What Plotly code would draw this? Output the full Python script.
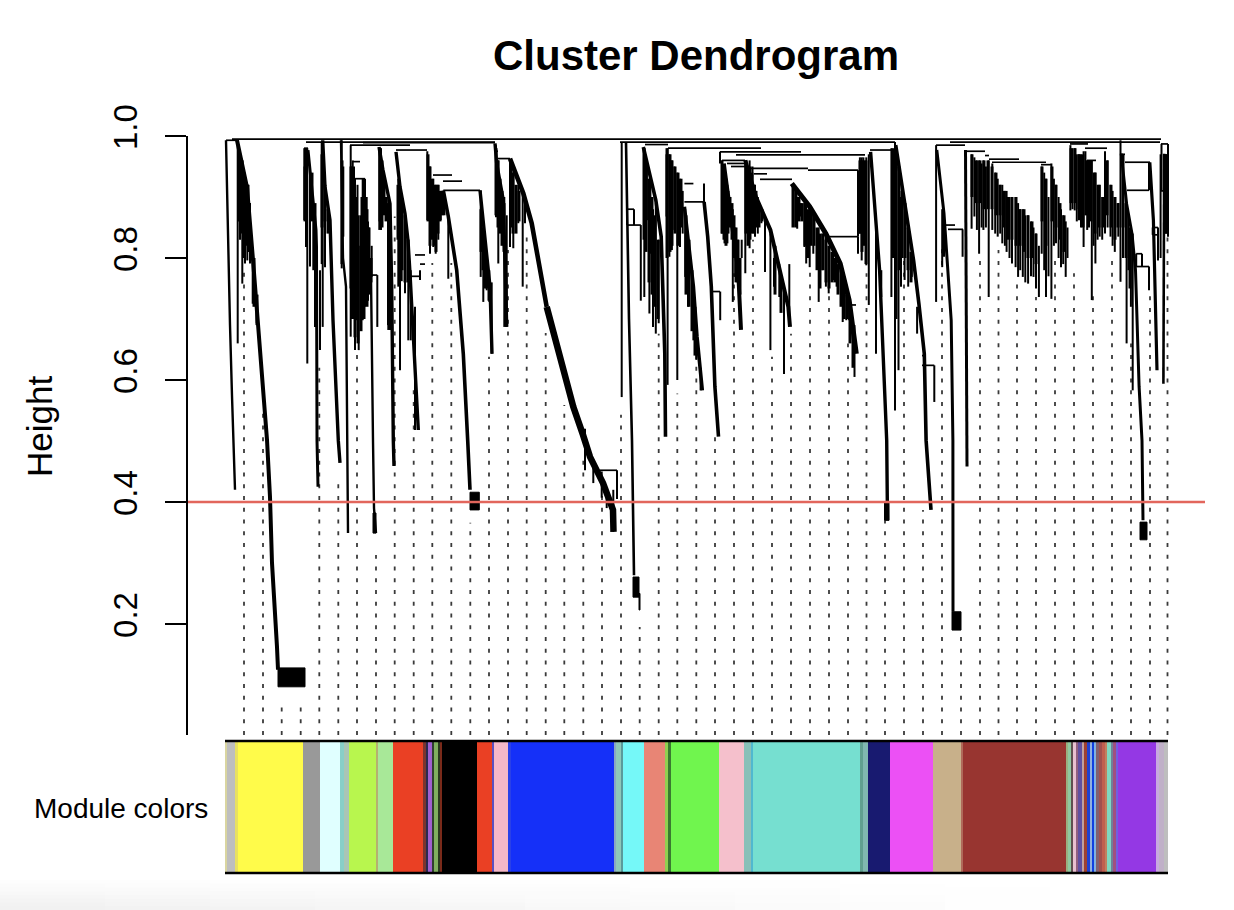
import plotly.graph_objects as go

# ---- module colour band (edges in leaf positions, one colour per interval)
band_edges = [225, 227.5, 235, 238.3, 303.3, 320, 340, 344, 349, 376.7, 378.3, 393.3, 423.3, 425.7, 428.3, 431.7, 434,
              437.7, 439.7, 441.7, 477.3, 492.3, 494.3, 508.3, 511, 615, 616, 620.7, 622.7, 644.3, 664.7, 668, 670.7,
              719.3, 744, 750.7, 752.7, 860, 862.7, 868.3, 890, 933.3, 960.7, 962.7, 1066, 1067.7, 1071, 1072.7, 1076,
              1077.7, 1081.7, 1084.3, 1087.3, 1090, 1091.7, 1094.3, 1096, 1099.3, 1101.7, 1105, 1107.3, 1111.7, 1113.3,
              1115.7, 1118, 1156, 1159.3, 1164, 1168.3]
band_colors = ["#d9d5a0", "#bebebe", "#e8e060", "#fffb4a", "#999999", "#e0ffff", "#88cfc8", "#aac5b5", "#b8f64e",
               "#b5b070", "#a8e898", "#ea4024", "#7a3530", "#2a2a50", "#a060d0", "#304030", "#80b060", "#2b3a20",
               "#7a2a1a", "#000000", "#ea4024", "#5a50c0", "#f5b8c8", "#2a40e8", "#1530f8", "#8aa8c0", "#8fc8b8",
               "#5a9a9a", "#75f8f8", "#e88575", "#90d050", "#3a7a30", "#70f54e", "#f5c0cc", "#88c0b8", "#50b8d0",
               "#76dfd0", "#60a090", "#80b8b0", "#181a70", "#ec50f5", "#c8b08a", "#b06a5a", "#983530", "#9ab080",
               "#90c8a0", "#605050", "#e8c0d0", "#906080", "#6050a0", "#c0a0a0", "#a04030", "#2040d0", "#90b0e0",
               "#1040e0", "#80b0e0", "#806070", "#a05050", "#c06050", "#c08060", "#80d8c0", "#70809a", "#a05080",
               "#7060e0", "#9438e4", "#c8a8e0", "#c0b0c8", "#bebebe"]

# ---- guide lines: leaf position and the height where each one starts
guide_x = [244, 263, 281.7, 300.7, 319.3, 338.3, 357, 376, 394.7, 413.7, 432.3, 451.3, 470.3, 489, 508, 526.7, 545.7,
           564.3, 583.3, 602, 621, 639.7, 658.7, 677.3, 696.3, 715, 734, 753, 772, 791, 810, 829, 848, 866.5, 885,
           904, 923, 942, 961, 980, 998.5, 1017, 1036, 1055, 1074, 1093, 1112, 1131, 1150, 1167.5]
guide_top = [.785, .546, .075, .064, .62, .43, .644, .313, .868, .589, .792, .792, .366, .638, .813, .846, .677, .559,
             .469, .424, .543, .195, .676, .578, .643, .507, .775, .83, .638, .676, .785, .742, .66, .775, .37, .807,
             .387, .818, .19, .807, .813, .764, .736, .807, .775, .747, .807, .66, .747, .867]

# ---- thin stems
twig_x_a = [237.7, 239, 240, 241, 242.3, 243, 244, 245, 246, 247.3, 248, 250, 252.7, 256.7,
            304.3, 306, 307.3, 310, 313.3, 315, 320, 321.7, 322.7, 325, 341.7, 343.3]
twig_top_a = [.993, .97, .95, .96, .96, .95, .94, .93, .93, .92, .92, .89, .80, .72,
              .98, .98, .98, .95, .88, .85, .78, .99, .95, .90, .993, .95]
twig_bot_a = [.66, .86, .83, .84, .758, .82, .80, .791, .82, .796, .81, .791, .725, .693,
              .862, .818, .627, .786, .78, .687, .649, .79, .687, .785, .783, .835]

twig_x_b = [350.7, 351.7, 352.7, 354, 355, 356.7, 357.5, 358.7, 360.7, 361.5, 362.7, 364, 365, 366.7, 368, 369, 371.7,
            377.3, 379.3, 381, 383.3, 386.7, 388.3, 390, 398.3, 400, 401.7, 405, 408.3, 410.7, 415, 420]
twig_top_b = [.985, .95, .96, .95, .93, .90, .92, .87, .87, .90, .93, .93, .93, .90, .86, .85, .82,
              .772, .982, .98, .94, .90, .90, .89, .93, .92, .90, .87, .83, .78, .72, .78]
twig_bot_b = [.671, .70, .742, .78, .649, .698, .76, .649, .698, .74, .698, .76, .72, .753, .73, .796, .769,
              .687, .846, .846, .889, .90, .682, .682, .753, .616, .762, .742, .665, .665, .518, .764]

twig_x_c = [427.3, 430, 433.3, 435.7, 438.3, 440.7, 443.3, 448.3, 480.7, 483.3, 486.7, 489.3, 491.7,
            496, 498.3, 501.7, 504.3, 506.7, 510, 513.3, 518.3, 522.7, 525, 585, 593.3, 601.7, 606.7, 613.3, 617]
twig_top_c = [.975, .95, .93, .92, .92, .91, .90, .865, .91, .85, .80, .78, .76,
              .985, .96, .90, .90, .87, .96, .94, .92, .91, .90, .52, .47, .45, .42, .42, .452]
twig_bot_c = [.862, .807, .818, .807, .83, .862, .873, .766, .769, .728, .747, .728, .643,
              .867, .791, .862, .687, .687, .818, .816, .857, .753, .857, .452, .431, .407, .39, .351, .405]

twig_x_d = [621.7, 627, 634, 640.8, 644.3, 646.9, 649.4, 650.4, 653, 655.8, 658.7, 666.5, 667.6, 669.4, 671.9, 674.4,
            677.3, 680, 682.7, 685.2, 688, 690.5, 693.4, 696.3, 700.6, 704, 720.2, 720]
twig_top_d = [.99, .88, .88, .854, .98, .96, .93, .93, .88, .89, .83, .97, .98, .97, .96, .95,
              .94, .93, .91, .88, .84, .80, .75, .69, .62, .922, .745, .974]
twig_bot_d = [.572, .854, .854, .73, .736, .862, .709, .807, .687, .676, .693, .868, .592, .802, .813, .846,
              .60, .818, .84, .769, .72, .78, .665, .633, .583, .892, .698, .955]

twig_x_e = [722, 724.5, 727.4, 730, 732.8, 735.3, 738.1, 741.7, 745.3, 749.6, 752.5, 755, 757.8, 761.4, 765, 770.4,
            774, 779.3, 784, 789.3, 793.6, 797.2, 800.8, 804.4, 806.2, 809.7, 813.3, 818.7, 822.3, 825.9, 828.7, 833,
            836.6, 842.7, 846.3, 849.1, 854.5, 858, 858]
twig_top_e = [.96, .95, .92, .90, .88, .85, .83, .83, .96, .96, .95, .92, .90, .88, .87, .84,
              .80, .79, .75, .79, .92, .90, .89, .89, .885, .88, .87, .85, .84, .84, .82, .81,
              .80, .77, .74, .73, .69, .944, .835]
twig_bot_e = [.84, .824, .824, .851, .728, .769, .785, .80, .775, .816, .846, .835, .84, .857, .777, .649,
              .753, .736, .61, .70, .851, .848, .868, .818, .791, .785, .807, .728, .78, .753, .742, .764,
              .753, .695, .698, .698, .605, .835, .807]

twig_x_f = [859.9, 861.7, 863.4, 866.3, 868.8, 876, 881.3, 891.4, 895, 898.5, 901, 904.6, 908.2, 911.8, 917.1, 934.3,
            936.1, 942.2, 944, 962.6]
twig_top_f = [.965, .965, .965, .965, .97, .86, .78, .98, .99, .95, .90, .89, .85, .80, .72, .624,
              .985, .88, .87, .847]
twig_bot_f = [.84, .796, .84, .788, .723, .643, .736, .736, .55, .616, .753, .764, .753, .769, .676, .564,
              .728, .785, .802, .802]

twig_x_g = [971.6, 974.4, 976.9, 979.1, 981.6, 983.4, 985.9, 988.7, 992.3, 995.2, 997.7, 1000.2, 1002.3, 1004.9, 1006.6,
            1009.5, 1012, 1015.6, 1018.1, 1020.2, 1022.8, 1025.3, 1028.1, 1031, 1033.5, 1036, 1038.9, 1041.7, 1044.2,
            1046, 1048.5, 1051.4, 1053.9, 1056, 1058.6, 1061, 1063.2, 1065.7, 1067.5]
twig_top_g = [.97, .965, .96, .96, .955, .96, .95, .96, .955, .94, .93, .92, .92, .91, .91,
              .90, .90, .90, .89, .88, .88, .87, .87, .86, .85, .84, .82, .95, .94,
              .93, .90, .955, .93, .92, .90, .88, .87, .86, .85]
twig_bot_g = [.848, .868, .846, .807, .85, .846, .85, .736, .846, .84, .835, .84, .824, .82, .81,
              .80, .791, .785, .769, .78, .769, .76, .758, .77, .769, .75, .736, .807, .78,
              .736, .77, .733, .82, .824, .80, .785, .79, .769, .80]

twig_x_h = [1070.4, 1072.5, 1074.7, 1076.8, 1079, 1081, 1083.6, 1085.4, 1087.2, 1089, 1091.8, 1093.6, 1095.4, 1097.6,
            1099.7, 1102.2, 1105, 1107.6, 1110.5, 1112.6, 1114.8, 1118.3, 1120.5, 1123, 1126.6, 1128.4, 1130.9, 1132.7,
            1136.2, 1142, 1149, 1149, 1152.7, 1158, 1160.6, 1161.5, 1166, 1168]
twig_top_h = [.985, .98, .98, .97, .97, .97, .975, .975, .96, .96, .96, .94, .94, .92,
              .92, .90, .975, .96, .92, .91, .90, .89, .993, .97, .89, .87, .85, .84,
              .807, .807, .957, .786, .85, .85, .97, .987, .97, .987]
twig_bot_h = [.878, .88, .878, .86, .862, .85, .818, .87, .846, .85, .731, .82, .791, .83,
              .835, .83, .84, .85, .835, .82, .81, .835, .761, .80, .66, .78, .72, .583,
              .786, .786, .911, .747, .838, .796, .80, .91, .84, .835]

# ---- heavy stems where many merges overlap and read as solid black
mass_x_a = [239, 242, 245, 248, 254, 257, 305, 312, 315, 322, 325, 328, 342, 351, 353, 355, 358, 361, 364, 367, 369,
            371, 380, 382, 384, 386, 388.5, 398, 400, 402, 405, 408, 428, 430, 432, 434, 436, 438, 440, 442, 444, 481,
            483, 485, 487, 489, 496, 498, 500, 502, 504, 506, 511, 513, 516, 519]
mass_top_a = [.97, .96, .93, .92, .80, .74, .95, .94, .89, .97, .92, .88, .96, .95, .90, .85, .82, .82, .85, .88, .85,
              .80, .98, .96, .93, .90, .89, .92, .91, .89, .87, .83, .97, .95, .93, .92, .92, .92, .91, .91, .90, .88,
              .85, .82, .79, .76, .98, .96, .93, .91, .89, .77, .95, .94, .92, .91]
mass_bot_a = [.87, .85, .85, .85, .72, .69, .86, .86, .80, .85, .86, .84, .79, .75, .70, .67, .66, .68, .70, .72, .74,
              .76, .86, .85, .87, .86, .69, .83, .80, .78, .76, .76, .86, .82, .83, .82, .81, .84, .86, .87, .87, .81,
              .78, .75, .75, .73, .87, .85, .84, .82, .81, .69, .85, .84, .84, .86]

mass_x_b = [644, 646, 649, 652, 655, 658, 667, 670, 672, 675, 678, 681, 686, 689, 692, 695, 722, 724, 726, 728, 730,
            732, 734, 736, 738, 740, 746, 748, 750, 752, 754, 756, 759, 762, 775, 781, 793, 796, 799, 802, 805, 808,
            811, 814, 817, 820, 823, 826, 829, 832, 835, 838, 841, 844, 847, 850, 853, 860, 862, 864, 866]
mass_top_b = [.98, .96, .93, .90, .87, .83, .98, .97, .96, .95, .94, .93, .87, .83, .78, .72, .96, .95, .93, .91, .90,
              .89, .87, .85, .83, .80, .96, .95, .95, .94, .92, .91, .89, .88, .82, .77, .92, .91, .90, .89, .89, .88,
              .88, .87, .85, .84, .84, .83, .82, .81, .80, .79, .78, .77, .74, .71, .68, .96, .96, .96, .96]
mass_bot_b = [.83, .81, .76, .74, .72, .70, .80, .81, .82, .84, .82, .85, .74, .72, .68, .64, .84, .83, .82, .84, .85,
              .83, .80, .76, .76, .74, .84, .82, .83, .84, .84, .85, .85, .86, .74, .71, .85, .85, .86, .86, .82, .80,
              .82, .82, .78, .75, .78, .76, .75, .76, .76, .74, .72, .70, .70, .66, .62, .84, .81, .82, .79]

mass_x_c = [893, 896, 899, 902, 905, 908, 911, 972, 976, 980, 984, 988, 992, 996, 1000, 1004, 1008, 1012, 1016, 1020,
            1024, 1028, 1032, 1036, 1042, 1046, 1052, 1056, 1060, 1064, 1071, 1075, 1079, 1083, 1087, 1091, 1095, 1099,
            1103, 1107, 1111, 1115, 1118, 1123, 1126, 1130, 1165, 1167]
mass_top_c = [.98, .98, .95, .91, .89, .85, .81, .97, .96, .96, .96, .96, .95, .94, .92, .91, .90, .90, .90, .88, .88,
              .87, .86, .84, .95, .93, .95, .92, .89, .87, .98, .98, .97, .97, .96, .96, .94, .92, .90, .96, .92, .90,
              .89, .97, .89, .85, .97, .97]
mass_bot_c = [.80, .70, .78, .80, .80, .78, .76, .90, .89, .89, .88, .88, .88, .87, .87, .85, .83, .83, .82, .82, .81,
              .80, .80, .79, .86, .82, .86, .85, .83, .81, .89, .89, .88, .85, .87, .86, .84, .85, .85, .87, .85, .83,
              .85, .85, .80, .75, .84, .84]

# ---- horizontal joins
join_x0 = [232, 306, 620, 950, 226, 304, 350, 363, 353, 355, 370, 396, 433, 443, 443.3, 461.7, 498, 495, 600, 627,
           627, 645, 668, 684.4, 684.4, 711, 720, 736, 722, 727, 731, 745, 808, 754, 760, 828, 848, 870, 922, 922,
           936, 945, 948, 967, 985, 989, 992, 1041, 1070, 1085, 1087, 1120, 1125, 1127, 1135.5, 1136.2, 1152.7, 1161,
           1161, 415, 420, 411, 1152.7]
join_x1 = [1161, 495, 895, 1160, 237, 308, 410, 495, 360, 365, 377.3, 427, 452, 462, 480, 462, 510, 498, 617, 634,
           640.8, 668, 761, 693.4, 704, 720, 801, 865, 745, 745, 745, 808, 858, 767, 792, 858, 856, 892, 934.3, 926,
           965, 955, 963, 985, 989, 1019, 1046, 1051, 1088, 1107, 1096, 1125, 1150, 1149, 1149, 1142, 1158, 1168,
           1166, 425, 425, 420, 1158]
join_h = [.995, .99, .99, .99, .993, .98, .985, .989, .958, .93, .772, .977, .936, .926, .911, .926, .963, .975, .452,
          .88, .854, .986, .98, .922, .892, .745, .974, .969, .96, .955, .95, .947, .944, .938, .929, .835, .723, .977,
          .624, .64, .985, .854, .847, .975, .968, .962, .957, .953, .987, .98, .96, .97, .957, .911, .786, .807, .85,
          .987, .91, .805, .79, .77, .838]

# ---- main falling stems, grouped by drawn weight
s01_x = [226, 228, 230, 232, 233, 235]
s01_h = [.993, .82, .69, .574, .508, .42]
s02_x = [237, 247, 253, 258, 263, 267, 270, 272, 277, 278]
s02_h = [.993, .916, .797, .698, .60, .502, .408, .30, .162, .125]
s03_x = [308, 313, 316, 316.5, 317, 318]
s03_h = [.977, .895, .846, .818, .501, .425]
s04_x = [322.7, 325, 330, 333, 338.3, 340]
s04_h = [.993, .917, .862, .698, .501, .464]
s05_x = [341, 343, 346, 347, 348]
s05_h = [.993, .80, .753, .50, .349]
s06_x = [371, 372, 373, 374, 376]
s06_h = [.769, .60, .50, .39, .349]
s07_x = [379, 383, 390, 391.7, 393.3, 394]
s07_h = [.982, .944, .889, .753, .501, .459]
s08_x = [396, 400, 405, 408, 410, 414, 418.3]
s08_h = [.974, .917, .873, .829, .775, .643, .518]
s09_x = [443.3, 448.3, 456.7, 463.3, 467.7, 470]
s09_h = [.911, .868, .78, .643, .501, .42]
s10_x = [480, 485, 490, 492]
s10_h = [.911, .835, .753, .643]
s11_x = [495, 496.7, 503.3, 506.7]
s11_h = [.988, .955, .895, .687]
s12_x = [510, 523.3, 531.7, 546.7]
s12_h = [.963, .906, .857, .72]
s13_x = [626, 629, 632, 634]
s13_h = [.99, .70, .50, .28]
s14_x = [643.3, 655.8, 661.2, 664.8, 665.5]
s14_h = [.982, .895, .835, .643, .507]
s15_x = [684.4, 688, 693.4, 697, 702.3]
s15_h = [.884, .835, .753, .671, .583]
s16_x = [704.1, 707.7, 711.3, 714.9, 718.5]
s16_h = [.892, .835, .753, .589, .507]
s17_x = [723.8, 731, 738.1, 741]
s17_h = [.955, .862, .78, .682]
s18_x = [745.3, 756, 763.2, 770.4, 777.5, 788.3, 790]
s18_h = [.96, .90, .873, .846, .796, .72, .687]
s19_x = [870.6, 876, 879.6, 883.1, 886.7, 887.5]
s19_h = [.974, .862, .78, .643, .501, .37]
s20_x = [895.7, 904.6, 913.6, 918.9, 924.3, 926.1, 931]
s20_h = [.985, .895, .796, .725, .643, .501, .387]
s21_x = [936.8, 944, 951.2, 952.9, 953]
s21_h = [.977, .873, .698, .501, .22]
s22_x = [965.5, 966.2, 967]
s22_h = [.977, .671, .458]
s23_x = [1121.2, 1126.6, 1132, 1135.5, 1139.1, 1142, 1143]
s23_h = [.971, .889, .84, .78, .589, .501, .37]
s24_x = [1149.8, 1153.4, 1157]
s24_h = [.957, .862, .616]
s25_x = [1164.2, 1163.4]
s25_h = [.971, .594]
s26_x = [546.7, 561.7, 573.3, 583, 590, 603, 613, 613.5]
s26_h = [.72, .633, .556, .51, .474, .431, .387, .351]
s27_x = [791.8, 809.7, 825.9, 840.2, 849.1, 856.3]
s27_h = [.922, .884, .84, .791, .731, .643]

# ---- solid blocks of very tight merges
block_x0 = [278, 470, 633, 952, 1140, 884.5, 373, 639]
block_x1 = [305, 479.3, 639, 961, 1147, 889, 376, 640]
block_top = [.128, .416, .277, .22, .367, .40, .382, .25]
block_bot = [.097, .387, .244, .19, .338, .37, .349, .223]

cut_height = [0.4, 0.4]
cut_x = [188, 1205]
y_ticks = [0.2, 0.4, 0.6, 0.8, 1.0]
y_tick_labels = ["0.2", "0.4", "0.6", "0.8", "1.0"]
title_text = "Cluster Dendrogram"
y_title = "Height"
band_label = "Module colors"

FONT = "Liberation Sans, Arial, Helvetica, sans-serif"
W, H = 1234, 910
plot_top, plot_bottom = 136, 878
plot_h = plot_bottom - plot_top
band_pad = 0.025            # room above and below the band for its black rules
band_px_top, band_px_bot = 741, 873
band_pad_px = band_pad * (band_px_bot - band_px_top)


def seg_path(xs, tops, bots):
    px, py = [], []
    for x, t, b in zip(xs, tops, bots):
        px += [x, x, None]
        py += [t, b, None]
    return px, py


def line_trace(x, y, width, color="black", yaxis="y", dash=None):
    return go.Scatter(x=x, y=y, mode="lines", yaxis=yaxis, hoverinfo="skip", showlegend=False, cliponaxis=False,
                      connectgaps=False, line=dict(color=color, width=width, dash=dash, shape="linear"))


fig = go.Figure()

# colour band
lefts = band_edges[:-1]
widths = [b - a for a, b in zip(band_edges[:-1], band_edges[1:])]
fig.add_trace(go.Bar(x=[l + w / 2 for l, w in zip(lefts, widths)], y=[1] * len(lefts), width=[w + 0.3 for w in widths],
                     marker=dict(color=band_colors, line=dict(width=0)), yaxis="y2", hoverinfo="skip",
                     showlegend=False))
fig.add_trace(line_trace([225, 1168], [1, 1], 2.6, yaxis="y2"))
fig.add_trace(line_trace([225, 1168], [0, 0], 2.6, yaxis="y2"))

# guides, drawn upward from the bottom so the dashes line up across the chart
gx, gy = [], []
for x, t in zip(guide_x, guide_top):
    gx += [x, x, None]
    gy += [0.0180, t, None]
fig.add_trace(line_trace(gx, gy, 1.8, color="#3a3a3a", dash="4px,7.75px"))

# thin stems
all_x = twig_x_a + twig_x_b + twig_x_c + twig_x_d + twig_x_e + twig_x_f + twig_x_g + twig_x_h
all_t = twig_top_a + twig_top_b + twig_top_c + twig_top_d + twig_top_e + twig_top_f + twig_top_g + twig_top_h
all_b = twig_bot_a + twig_bot_b + twig_bot_c + twig_bot_d + twig_bot_e + twig_bot_f + twig_bot_g + twig_bot_h
tx, ty = seg_path(all_x, all_t, all_b)
fig.add_trace(line_trace(tx, ty, 2.0))

# heavy stems
mx, my = seg_path(mass_x_a + mass_x_b + mass_x_c, mass_top_a + mass_top_b + mass_top_c,
                  mass_bot_a + mass_bot_b + mass_bot_c)
fig.add_trace(line_trace(mx, my, 3.0))

# horizontal joins
jx, jy = [], []
for a, b, h in zip(join_x0, join_x1, join_h):
    jx += [a, b, None]
    jy += [h, h, None]
fig.add_trace(line_trace(jx, jy, 1.7))

# main stems
for (xs, hs, w) in [(s01_x, s01_h, 2.4), (s02_x, s02_h, 4), (s03_x, s03_h, 3), (s04_x, s04_h, 3.4), (s05_x, s05_h, 2.4),
                    (s06_x, s06_h, 2.4), (s07_x, s07_h, 3.4), (s08_x, s08_h, 3.4), (s09_x, s09_h, 3.6), (s10_x, s10_h, 3.4),
                    (s11_x, s11_h, 3.4), (s12_x, s12_h, 4.6), (s13_x, s13_h, 2.6), (s14_x, s14_h, 3.6), (s15_x, s15_h, 3.6),
                    (s16_x, s16_h, 3.6), (s17_x, s17_h, 4), (s18_x, s18_h, 4), (s19_x, s19_h, 3.4), (s20_x, s20_h, 3.6),
                    (s21_x, s21_h, 3), (s22_x, s22_h, 3), (s23_x, s23_h, 3), (s24_x, s24_h, 3.2), (s25_x, s25_h, 2.6),
                    (s26_x, s26_h, 6.5), (s27_x, s27_h, 5)]:
    fig.add_trace(line_trace(xs, hs, w))

# blocks
bx, by = [], []
for a, b, t, d in zip(block_x0, block_x1, block_top, block_bot):
    bx += [a, b, b, a, a, None]
    by += [t, t, d, d, t, None]
fig.add_trace(go.Scatter(x=bx, y=by, mode="lines", fill="toself", fillcolor="black", hoverinfo="skip",
                         line=dict(color="black", width=1), showlegend=False))

# cut line
fig.add_trace(line_trace(cut_x, cut_height, 2.6, color="#e2665c"))

# faint page vignette along the bottom edge of the reference photograph
vignette = []
n_cols = 10
for row in range(8):
    for col in range(n_cols):
        fade = 1.0 - col / n_cols
        level = 255 - int(round((row + 1) * 1.8 * fade))
        vignette.append(dict(type="rect", xref="paper", yref="paper", layer="below", line=dict(width=0),
                             x0=(col * 105 - 188) / 1017, x1=(105 + col * 105 - 188) / 1017,
                             y0=(plot_bottom - 910) / plot_h, y1=(plot_bottom - (880 + row * 3.75)) / plot_h,
                             fillcolor="rgb(%d,%d,%d)" % (level, level, level)))

fig.update_layout(
    width=W, height=H,
    margin=dict(l=188, r=W - 1205, t=plot_top, b=H - plot_bottom, pad=0),
    paper_bgcolor="white", plot_bgcolor="rgba(0,0,0,0)", showlegend=False, bargap=0,
    font=dict(family=FONT, color="black"),
    shapes=vignette,
    xaxis=dict(range=[188, 1205], visible=False, fixedrange=True),
    yaxis=dict(domain=[(plot_bottom - 735) / plot_h, 1], range=[0.018, 1.0], showgrid=False, zeroline=False,
               tickmode="array", tickvals=y_ticks, ticktext=y_tick_labels, tickangle=-90,
               tickfont=dict(size=33, family=FONT), ticks="outside", ticklen=21, tickwidth=2, tickcolor="black",
               ticklabelstandoff=15, ticklabelshift=-4,
               showline=True, linewidth=2, linecolor="black", fixedrange=True),
    yaxis2=dict(domain=[(plot_bottom - band_px_bot - band_pad_px) / plot_h,
                        (plot_bottom - band_px_top + band_pad_px) / plot_h],
                range=[-band_pad, 1 + band_pad], visible=False, fixedrange=True),
    annotations=[
        dict(text="<b>%s</b>" % title_text, xref="paper", yref="paper", x=(696 - 188) / 1017, xanchor="center",
             y=1 + (136 - 55) / plot_h, yanchor="middle", showarrow=False, font=dict(size=42, family=FONT)),
        dict(text=y_title, xref="paper", yref="paper", x=(39 - 188) / 1017, xanchor="center",
             y=(plot_bottom - 427) / plot_h, yanchor="middle", textangle=-90, showarrow=False,
             font=dict(size=35, family=FONT)),
        dict(text=band_label, xref="paper", yref="paper", x=(210 - 188) / 1017, xanchor="right",
             y=(plot_bottom - 808) / plot_h, yanchor="middle", showarrow=False, font=dict(size=28, family=FONT)),
    ],
)
fig.write_html("out.html", config=dict(displayModeBar=False),
               post_script="document.body.style.margin='0';document.body.style.overflow='hidden';")
